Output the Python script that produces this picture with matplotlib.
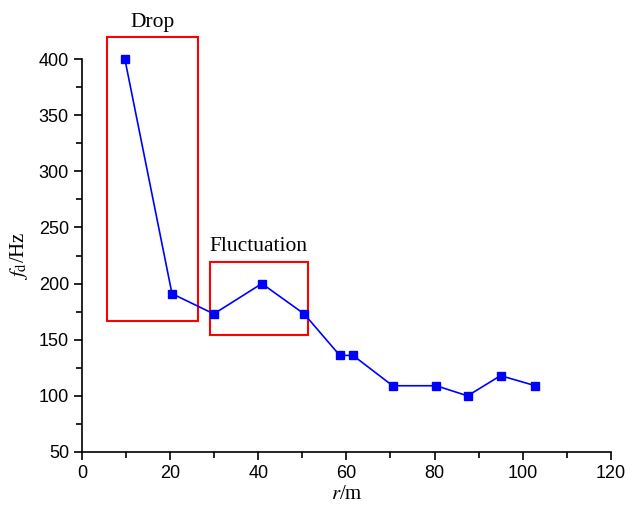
import matplotlib
matplotlib.use('Agg')
import matplotlib.pyplot as plt
from matplotlib.patches import Rectangle

# data
r = [9.7, 20.4, 29.9, 40.8, 50.4, 58.5, 61.5, 70.5, 80.4, 87.5, 95.0, 102.9]
fd = [400, 191, 173, 200, 173, 136, 136, 109, 109, 100, 118, 109]

# annotation boxes: (x0, y0, x1, y1) in data units
drop_box = (5.7, 166.5, 26.3, 419.5)
fluct_box = (29.0, 154.5, 51.2, 219.5)

plt.rcParams['font.family'] = 'Liberation Sans'
plt.rcParams['mathtext.fontset'] = 'stix'

fig = plt.figure(figsize=(6.27, 5.05), dpi=100)
ax = fig.add_axes([0.131, 0.105, 0.843, 0.778])

ax.plot(r, fd, color='blue', lw=1.2, marker='s', ms=6, mec='blue', mfc='blue', clip_on=False)

ax.set_xlim(0, 120)
ax.set_ylim(50, 400)
ax.set_xticks(range(0, 121, 20))
ax.set_xticks(range(10, 120, 20), minor=True)
ax.set_yticks(range(50, 401, 50))
ax.set_yticks(range(75, 400, 50), minor=True)
ax.tick_params(which='both', direction='out', width=1.2, labelsize=13)
ax.tick_params(which='major', length=6)
ax.tick_params(which='minor', length=4)
ax.spines['top'].set_visible(False)
ax.spines['right'].set_visible(False)
ax.spines['left'].set_linewidth(1.2)
ax.spines['bottom'].set_linewidth(1.2)

ax.set_xlabel(r'$\mathit{r}$/m', fontsize=15, family='Liberation Serif', labelpad=2)
ax.set_ylabel(r'$\mathit{f}_{\mathrm{d}}$/Hz', fontsize=15, family='Liberation Serif', labelpad=6)

for (x0, y0, x1, y1) in [drop_box, fluct_box]:
    ax.add_patch(Rectangle((x0, y0), x1 - x0, y1 - y0, fill=False,
                           ec='red', lw=1.5, clip_on=False))

ax.text((drop_box[0] + drop_box[2]) / 2, drop_box[3] + 5, 'Drop', ha='center', va='bottom',
        fontsize=15.5, family='Liberation Serif')
ax.text((fluct_box[0] + fluct_box[2]) / 2, fluct_box[3] + 5, 'Fluctuation', ha='center', va='bottom',
        fontsize=15.5, family='Liberation Serif')

fig.savefig('out.png', dpi=100)
